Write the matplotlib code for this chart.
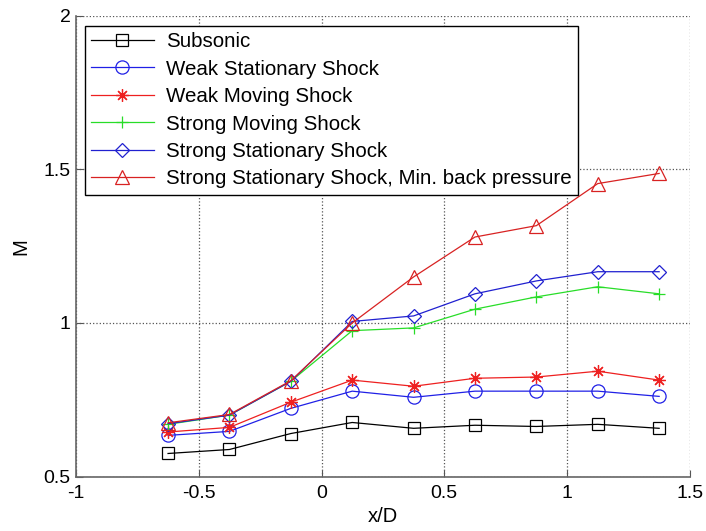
import matplotlib
matplotlib.use("Agg")
import matplotlib.pyplot as plt

x = [-0.625, -0.375, -0.125, 0.125, 0.375, 0.625, 0.875, 1.125, 1.375]

subsonic = [0.575, 0.588, 0.640, 0.676, 0.657, 0.667, 0.663, 0.670, 0.657]
weak_stationary = [0.634, 0.647, 0.722, 0.778, 0.758, 0.778, 0.778, 0.778, 0.761]
weak_moving = [0.645, 0.660, 0.742, 0.814, 0.794, 0.820, 0.824, 0.843, 0.814]
strong_moving = [0.670, 0.700, 0.810, 0.975, 0.984, 1.045, 1.085, 1.118, 1.095]
strong_stationary = [0.672, 0.700, 0.810, 1.005, 1.023, 1.095, 1.137, 1.167, 1.167]
strong_min_bp = [0.675, 0.702, 0.812, 1.000, 1.150, 1.280, 1.317, 1.454, 1.487]

labels = ["Subsonic", "Weak Stationary Shock", "Weak Moving Shock",
          "Strong Moving Shock", "Strong Stationary Shock",
          "Strong Stationary Shock, Min. back pressure"]

xticks = [-1, -0.5, 0, 0.5, 1, 1.5]
xticklabels = ["-1", "-0.5", "0", "0.5", "1", "1.5"]
yticks = [0.5, 1, 1.5, 2]
yticklabels = ["0.5", "1", "1.5", "2"]

plt.rcParams['font.family'] = ['Liberation Sans', 'DejaVu Sans']

fig = plt.figure(figsize=(7.06, 5.31), dpi=100)
ax = fig.add_axes([0.1076, 0.1026, 0.8695, 0.8674])

series = [subsonic, weak_stationary, weak_moving, strong_moving, strong_stationary, strong_min_bp]
colors = ['black', '#2020e6', '#ee2020', '#28dd28', '#2020d0', '#d82222']
markers = ['s', 'o', (8, 2, 0), '+', 'D', '^']
msizes = [8.5, 9.5, 9.0, 9.0, 6.8, 10.0]
filled = [False, False, True, True, False, False]

for ys, c, m, ms, f, lab in zip(series, colors, markers, msizes, filled, labels):
    if f:
        ax.plot(x, ys, color=c, marker=m, markersize=ms, linewidth=0.9,
                markeredgewidth=0.9, label=lab)
    else:
        ax.plot(x, ys, color=c, marker=m, markersize=ms, linewidth=0.9,
                markerfacecolor='none', markeredgewidth=0.9, label=lab)

ax.set_xlim(-1, 1.5)
ax.set_ylim(0.5, 2)
ax.set_xticks(xticks)
ax.set_xticklabels(xticklabels)
ax.set_yticks(yticks)
ax.set_yticklabels(yticklabels)
ax.tick_params(direction='in', length=5, labelsize=14, colors='#555555',
               labelcolor='black', top=False, right=False)
ax.tick_params(axis='x', pad=6)
ax.tick_params(axis='y', pad=4)

ax.grid(True, linestyle=':', color='#555555', linewidth=0.9)
ax.set_axisbelow(True)
for s in ['top', 'right']:
    ax.spines[s].set_visible(False)
for s in ['left', 'bottom']:
    ax.spines[s].set_color('#666666')
    ax.spines[s].set_linewidth(1.2)

ax.set_xlabel("x/D", fontsize=14.5, labelpad=4)
ax.set_ylabel("M", fontsize=14.5, labelpad=9)

leg = ax.legend(loc='upper left', bbox_to_anchor=(0.0146, 0.978), fontsize=14.8,
                frameon=True, fancybox=False, framealpha=1, edgecolor='black',
                handlelength=3.05, handletextpad=0.6, labelspacing=0.41,
                borderpad=0.30, borderaxespad=0)
leg.get_frame().set_linewidth(1.0)

fig.savefig("out.png", dpi=100)
